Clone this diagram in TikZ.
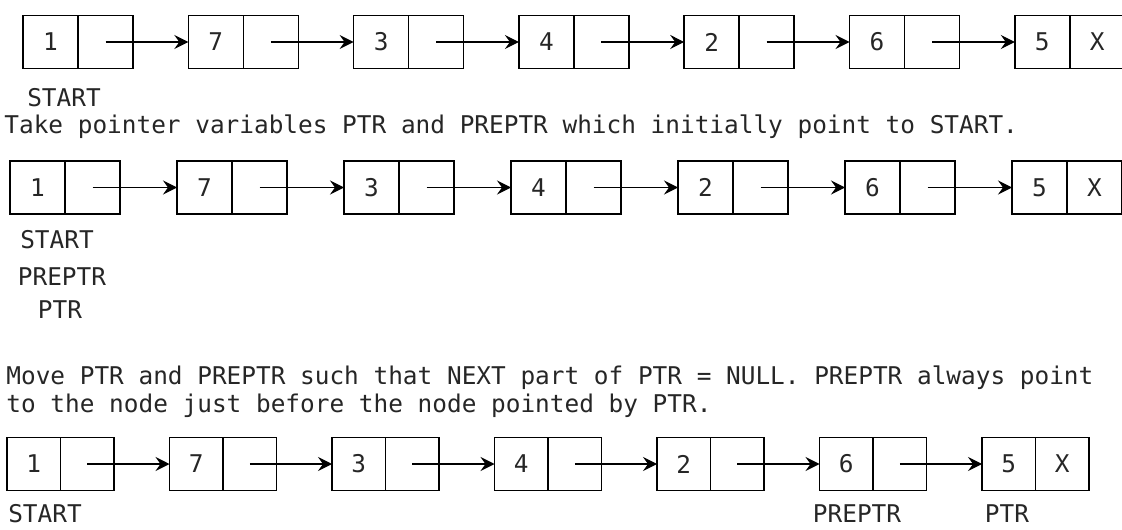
\documentclass[tikz,border=0pt]{standalone}
\usepackage{fontspec}
\setmainfont{DejaVu Sans Mono}
\usetikzlibrary{positioning,arrows.meta}
\tikzset{
	cell/.style={draw,line width=0.75pt,minimum width=27.5pt,minimum height=26.5pt,inner sep=0pt,outer sep=0pt},
	link/.style={line width=0.6pt,-{Stealth[length=7pt,width=7pt,inset=2.5pt]}},
	txt/.style={inner sep=0pt,font=\fontsize{12.2}{14}\selectfont,text=black!85}
}
\begin{document}
\begin{tikzpicture}[x=0.5pt,y=-0.5pt,every node/.style={font=\fontsize{12.2}{14}\selectfont,text=black!85}]
		\useasboundingbox (0,0) rectangle (1122,529);
		% first list
		\foreach \v [count=\i] in {1,7,3,4,2,6,5}{
			\node[cell] (a\i) at ({50.5+165.3*(\i-1)},42) {\v};
			\node[cell,right=0pt of a\i] (b\i) {\ifnum\i=7 X\fi};
		}
		\foreach \i [evaluate=\i as \j using int(\i+1)] in {1,...,6}{
			\draw[link] (b\i.center) -- (a\j.west);
		}
		\node[txt] (lstart1) at (64,98) {START};
		\node[txt,anchor=west] (line1) at (4,127) {Take pointer variables PTR and PREPTR which initially point to START.};
		% second list
		\foreach \v [count=\i] in {1,7,3,4,2,6,5}{
			\node[cell] (c\i) at ({37.5+167*(\i-1)},187.5) {\v};
			\node[cell,right=0pt of c\i] (d\i) {\ifnum\i=7 X\fi};
		}
		\foreach \i [evaluate=\i as \j using int(\i+1)] in {1,...,6}{
			\draw[link] (d\i.center) -- (c\j.west);
		}
		\node[txt] (lstart2) at (57,240) {START};
		\node[txt] (lpre2) at (62,277) {PREPTR};
		\node[txt] (lptr2) at (60,310) {PTR};
		\node[txt,anchor=west] (line2) at (6,378) {Move PTR and PREPTR such that NEXT part of PTR = NULL. PREPTR always point};
		\node[txt,anchor=west] (line3) at (6,406) {to the node just before the node pointed by PTR.};
		% third list
		\foreach \v [count=\i] in {1,7,3,4,2,6,5}{
			\node[cell,minimum width=26.75pt] (e\i) at ({33.75+162.5*(\i-1)},464) {\v};
			\node[cell,minimum width=26.75pt,right=0pt of e\i] (f\i) {\ifnum\i=7 X\fi};
		}
		\foreach \i [evaluate=\i as \j using int(\i+1)] in {1,...,6}{
			\draw[link] (f\i.center) -- (e\j.west);
		}
		\node[txt] (lstart3) at (45,514) {START};
		\node[txt] (lpre3) at (857,514) {PREPTR};
		\node[txt] (lptr3) at (1007,514) {PTR};
\end{tikzpicture}
\end{document}
